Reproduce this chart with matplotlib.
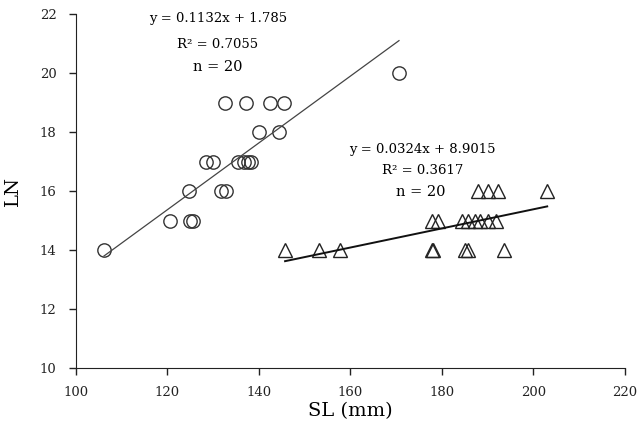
import matplotlib
matplotlib.use("Agg")
import matplotlib.pyplot as plt
import numpy as np

# Group 1 (circles)
sl_circ = [106.1, 120.5, 124.9, 125.6, 124.6, 131.8, 132.7,
           128.5, 129.9, 135.5, 136.8, 137.5, 138.2,
           139.9, 144.4, 132.6, 137.1, 142.4, 145.5, 170.6]
ln_circ = [14, 15, 15, 15, 16, 16, 16,
           17, 17, 17, 17, 17, 17,
           18, 18, 19, 19, 19, 19, 20]

# Group 2 (triangles)
sl_tri = [145.7, 153.2, 157.7, 177.9, 178.1, 185.0, 185.7, 193.6,
          177.9, 179.2, 184.3, 185.7, 187.2, 188.3, 190.1, 191.9,
          187.9, 190.1, 192.3, 203.0]
ln_tri = [14, 14, 14, 14, 14, 14, 14, 14,
          15, 15, 15, 15, 15, 15, 15, 15,
          16, 16, 16, 16]

fit_circ = (0.1132, 1.785, 0.7055)
fit_tri = (0.0324, 8.9015, 0.3617)

plt.rcParams['font.family'] = ['DejaVu Serif']

fig = plt.figure(figsize=(6.38, 4.33), dpi=100)
ax = fig.add_axes([0.1191, 0.150, 0.8605, 0.8177])

ax.plot(sl_circ, ln_circ, 'o', ms=9.6, mfc='none', mec='#333333', mew=1.0)
ax.plot(sl_tri, ln_tri, '^', ms=10.5, mfc='none', mec='#222222', mew=1.0)

# trend lines
x1 = np.array([min(sl_circ), max(sl_circ)])
ax.plot(x1, fit_circ[0] * x1 + fit_circ[1], color='#444444', lw=0.9)
x2 = np.array([min(sl_tri), max(sl_tri)])
ax.plot(x2, fit_tri[0] * x2 + fit_tri[1], color='#111111', lw=1.4)

ax.set_xlim(100, 220)
ax.set_ylim(10, 22)
ax.set_xticks(range(100, 221, 20))
ax.set_yticks(range(10, 23, 2))
ax.spines['top'].set_visible(False)
ax.spines['right'].set_visible(False)
ax.tick_params(direction='out', length=5, width=1, labelsize=9.5, colors='#222222')
ax.tick_params(axis='y', pad=9)
ax.tick_params(axis='x', pad=8)
for s in ['left', 'bottom']:
    ax.spines[s].set_color('#222222')

ax.set_xlabel('SL (mm)', fontsize=14)
ax.set_ylabel('LN', fontsize=14)
ax.xaxis.set_label_coords(0.5, -0.095)
ax.yaxis.set_label_coords(-0.098, 0.5)

ax.text(131, 21.86, 'y = %.4fx + %.3f' % (fit_circ[0], fit_circ[1]), fontsize=9.5, ha='center', va='center')
ax.text(131, 20.97, 'R² = %.4f' % fit_circ[2], fontsize=9.5, ha='center', va='center')
ax.text(131, 20.2, 'n = 20', fontsize=10.5, ha='center', va='center')

ax.text(175.8, 17.41, 'y = %.4fx + %.4f' % (fit_tri[0], fit_tri[1]), fontsize=9.5, ha='center', va='center')
ax.text(175.8, 16.71, 'R² = %.4f' % fit_tri[2], fontsize=9.5, ha='center', va='center')
ax.text(175.3, 15.98, 'n = 20', fontsize=10.5, ha='center', va='center')

fig.savefig('out.png', dpi=100)
